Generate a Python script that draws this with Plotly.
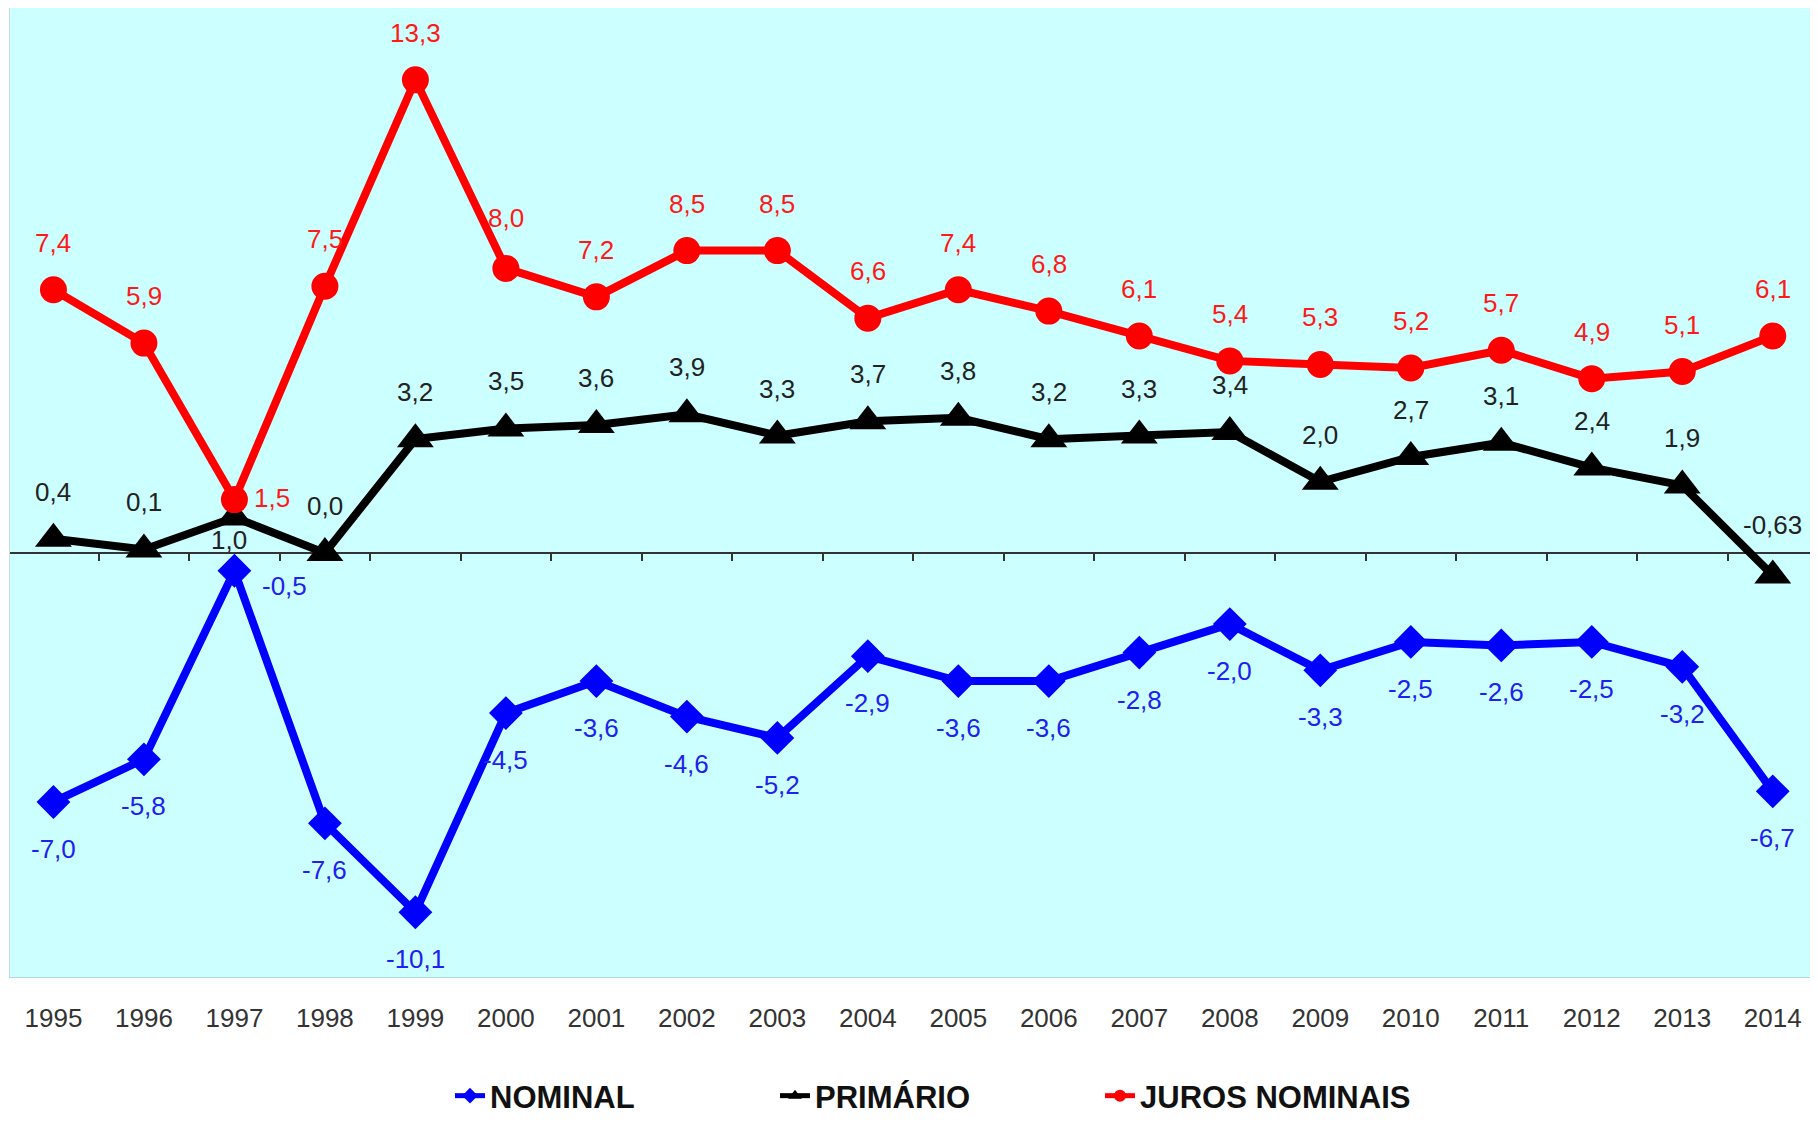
import plotly.graph_objects as go

# ---------------- data ----------------
anos = [1995, 1996, 1997, 1998, 1999, 2000, 2001, 2002, 2003, 2004,
        2005, 2006, 2007, 2008, 2009, 2010, 2011, 2012, 2013, 2014]
nominal = [-7.0, -5.8, -0.5, -7.6, -10.1, -4.5, -3.6, -4.6, -5.2, -2.9,
           -3.6, -3.6, -2.8, -2.0, -3.3, -2.5, -2.6, -2.5, -3.2, -6.7]
primario = [0.4, 0.1, 1.0, 0.0, 3.2, 3.5, 3.6, 3.9, 3.3, 3.7,
            3.8, 3.2, 3.3, 3.4, 2.0, 2.7, 3.1, 2.4, 1.9, -0.63]
juros = [7.4, 5.9, 1.5, 7.5, 13.3, 8.0, 7.2, 8.5, 8.5, 6.6,
         7.4, 6.8, 6.1, 5.4, 5.3, 5.2, 5.7, 4.9, 5.1, 6.1]
nomes = ["NOMINAL", "PRIMÁRIO", "JUROS NOMINAIS"]

# ---------------- style ----------------
# the page body has an 8px margin, so the figure is sized to fit the window
W, H = 1810, 1108
ML, MR, MT, MB = 2, 0, 0, 139
Y_MIN, Y_MAX = -11.92, 15.32
X_MIN, X_MAX = 1994.52, 2014.5
FONT = "Liberation Sans, Arial, sans-serif"

def fmt(v):
    if abs(v * 10 - round(v * 10)) < 1e-9:
        s = f"{v:.1f}"
    else:
        s = f"{v:.2f}"
    return s.replace(".", ",")

series = [
    dict(name=nomes[0], y=nominal, color="#0000FF", lab="#2020F0", sym="diamond", size=26, xa="x", dy=-47),
    dict(name=nomes[1], y=primario, color="#000000", lab="#222222", sym="triangle-up", size=32, xa="x2", dy=47),
    dict(name=nomes[2], y=juros, color="#FF0000", lab="#FF1a1a", sym="circle", size=27, xa="x2", dy=47),
]
# label offset exceptions (px): (series name, year) -> (xshift, yshift)
excecoes = {
    ("JUROS NOMINAIS", 1997): (38, 2),
    ("PRIMÁRIO", 1997): (-5, -23),
    ("NOMINAL", 1997): (50, -15),
    ("JUROS NOMINAIS", 2000): (0, 50),
    ("PRIMÁRIO", 2014): (0, 50),
}

fig = go.Figure()
annotations = []
for s in series:
    fig.add_trace(go.Scatter(
        x=anos, y=s["y"], name=s["name"], mode="lines+markers",
        xaxis=s["xa"], yaxis="y",
        line=dict(color=s["color"], width=8),
        marker=dict(symbol=s["sym"], size=s["size"], color=s["color"]),
        hoverinfo="x+y",
    ))
    for a, v in zip(anos, s["y"]):
        xs, ys = excecoes.get((s["name"], a), (0, s["dy"]))
        annotations.append(dict(
            x=a, y=v, xref=s["xa"], yref="y", text=fmt(v), showarrow=False,
            xshift=xs, yshift=ys,
            font=dict(family=FONT, size=26, color=s["lab"]),
        ))

plot_h = H - MT - MB
plot_w = W - ML - MR
zero_frac = (0 - Y_MIN) / (Y_MAX - Y_MIN)

fig.update_layout(
    width=W, height=H,
    margin=dict(l=ML, r=MR, t=MT, b=MB, pad=0, autoexpand=False),
    paper_bgcolor="white",
    plot_bgcolor="#CCFFFF",
    showlegend=True,
    legend=dict(
        orientation="h", x=(442 - ML) / plot_w, y=-(1088 - (H - MB)) / plot_h,
        xanchor="left", yanchor="middle",
        font=dict(family=FONT, size=31, color="#111111", weight="bold"),
        entrywidth=280, entrywidthmode="pixels", itemwidth=30,
        bgcolor="rgba(0,0,0,0)", itemsizing="constant",
    ),
    xaxis=dict(
        range=[X_MIN, X_MAX], tickmode="linear", tick0=1995, dtick=1,
        showgrid=False, zeroline=False,
        showline=True, linecolor="#b8d4dc", linewidth=1, mirror=False,
        ticks="outside", ticklen=18, tickcolor="rgba(0,0,0,0)",
        tickfont=dict(family=FONT, size=26, color="#333333"),
        fixedrange=True,
    ),
    xaxis2=dict(
        range=[X_MIN, X_MAX], overlaying="x", anchor="free", position=zero_frac,
        tickmode="linear", tick0=1994.5, dtick=1,
        ticks="outside", ticklen=7, tickwidth=1.5, tickcolor="#333333",
        showline=True, linecolor="#333333", linewidth=1.5,
        showticklabels=False, showgrid=False, zeroline=False,
        layer="below traces",
    ),
    yaxis=dict(
        range=[Y_MIN, Y_MAX], showgrid=False, zeroline=False,
        showticklabels=False, ticks="",
        showline=True, linecolor="#c8dcdc", linewidth=1,
    ),
    annotations=annotations,
)

fig.write_html("out.html")
